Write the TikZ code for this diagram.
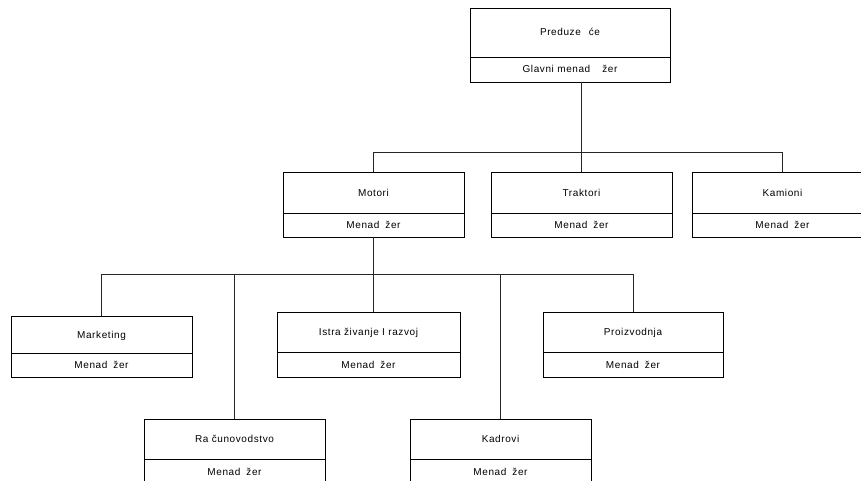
\documentclass[tikz,border=0pt]{standalone}
\usepackage{fontspec}
\setmainfont{Liberation Sans}[LetterSpace=6]
\usepackage{tikz}
\newcommand{\gap}[1]{\hspace{#1pt}}

\begin{document}
\begin{tikzpicture}[x=1pt, y=-1pt,
    unit/.style={draw=black, line width=0.8pt, anchor=north west,
      inner sep=0pt, outer sep=0pt, text height=7pt, text depth=0pt,
      font=\fontsize{10}{12}\selectfont},
    link/.style={draw=black!85, line width=0.8pt}]
    % page size = reference size, boxes at the bottom run off the edge
    \clip (0,0) rectangle (861,481);

    % --- top: the firm ---
    \node[unit, minimum width=200pt, minimum height=49pt] (firm) at (470,8)
      {Preduze\gap{8}će};
    \node[unit, minimum width=200pt, minimum height=25pt] (firm-m)
      at (firm.south west) {Glavni menad\gap{12}žer};

    % --- divisions and departments: name part, then manager part ---
    \foreach \id/\x/\y/\w/\hn/\hm/\name in {%
        mot/283/172/181/41/24/{Motori},
        trak/491/172/181/41/24/{Traktori},
        kam/692/172/181/41/24/{Kamioni},
        mkt/11/316/181/37/24/{Marketing},
        ist/277/312/183/40/25/{Istra živanje I razvoj},
        pro/543/312/180/40/25/{Proizvodnja},
        rac/144/419/181/40/25/{Ra čunovodstvo},
        kad/410/419/181/40/25/{Kadrovi}} {
      \node[unit, minimum width=\w pt, minimum height=\hn pt] (\id) at (\x,\y)
        {\name};
      \node[unit, minimum width=\w pt, minimum height=\hm pt] (\id-m)
        at (\id.south west) {Menad\gap{6}žer};
    }

    % --- connectors ---
    \coordinate (busA) at (0,152);
    \coordinate (busB) at (0,274);
    \draw[link] (firm-m.south -| trak.north) -- (trak.north);
    \draw[link] (mot.north) -- (mot.north |- busA) -- (kam.north |- busA)
      -- (kam.north);
    \draw[link] (mot-m.south) -- (mot-m.south |- ist.north);
    \draw[link] (mkt.north) -- (mkt.north |- busB) -- (pro.north |- busB)
      -- (pro.north);
    \foreach \id in {rac, kad}
      \draw[link] (\id.north |- busB) -- (\id.north);
  \end{tikzpicture}
\end{document}
